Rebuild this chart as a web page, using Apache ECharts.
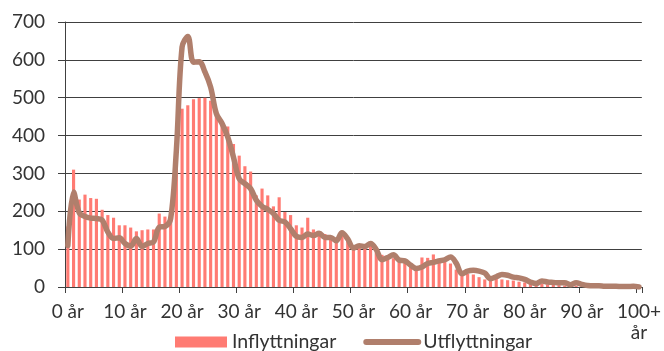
<!DOCTYPE html>
<html>
<head>
<meta charset="utf-8">
<script src="https://cdn.jsdelivr.net/npm/echarts@6/dist/echarts.min.js"></script>
<style>
  html, body { margin: 0; padding: 0; background: #fff; }
  #chart { width: 664px; height: 351px; }
</style>
</head>
<body>
<div id="chart"></div>
<script>
// Age groups, 0 år .. 100+ år
const ages = [
  '0 år','1 år','2 år','3 år','4 år','5 år','6 år','7 år','8 år','9 år',
  '10 år','11 år','12 år','13 år','14 år','15 år','16 år','17 år','18 år','19 år',
  '20 år','21 år','22 år','23 år','24 år','25 år','26 år','27 år','28 år','29 år',
  '30 år','31 år','32 år','33 år','34 år','35 år','36 år','37 år','38 år','39 år',
  '40 år','41 år','42 år','43 år','44 år','45 år','46 år','47 år','48 år','49 år',
  '50 år','51 år','52 år','53 år','54 år','55 år','56 år','57 år','58 år','59 år',
  '60 år','61 år','62 år','63 år','64 år','65 år','66 år','67 år','68 år','69 år',
  '70 år','71 år','72 år','73 år','74 år','75 år','76 år','77 år','78 år','79 år',
  '80 år','81 år','82 år','83 år','84 år','85 år','86 år','87 år','88 år','89 år',
  '90 år','91 år','92 år','93 år','94 år','95 år','96 år','97 år','98 år','99 år',
  '100+ år'
];

// Inflyttningar per age
const inflyttningar = [
  160, 310, 231, 244, 235, 233, 204, 190, 183, 163,
  163, 157, 147, 150, 152, 152, 194, 186, 198, 352,
  471, 480, 496, 499, 500, 492, 465, 430, 424, 378,
  347, 319, 305, 242, 260, 242, 213, 237, 198, 190,
  163, 157, 183, 152, 148, 140, 135, 128, 137, 123,
  110, 108, 108, 115, 100, 85, 80, 76, 68, 66,
  57, 51, 78, 77, 86, 75, 66, 62, 46, 33,
  35, 33, 26, 20, 19, 22, 20, 18, 17, 14,
  12, 10, 9, 8, 7, 6, 5, 4, 4, 3,
  3, 2, 2, 1, 1, 1, 1, 0, 0, 0,
  0
];

// Utflyttningar per age
const utflyttningar = [
  110, 251, 196, 186, 182, 181, 177, 145, 128, 130,
  115, 108, 128, 107, 115, 119, 158, 160, 181, 361,
  634, 662, 594, 595, 568, 528, 458, 432, 396, 343,
  286, 273, 260, 229, 213, 205, 194, 176, 172, 154,
  134, 131, 140, 136, 142, 131, 131, 122, 143, 127,
  103, 109, 107, 115, 99, 72, 78, 85, 71, 69,
  58, 49, 53, 62, 65, 69, 72, 79, 63, 35,
  42, 44, 42, 37, 22, 27, 33, 31, 26, 24,
  20, 13, 9, 16, 13, 12, 11, 11, 6, 11,
  7, 4, 3, 3, 2, 2, 2, 1, 1, 2,
  0
];

const FONT = 'Lato';
const TEXT = '#333333';
const RULE = '#404040';
const BAR = '#FF7B73';
const LINE = '#B07F6C';

const chart = echarts.init(document.getElementById('chart'), null, { renderer: 'canvas' });

chart.setOption({
  animation: false,
  backgroundColor: '#ffffff',
  textStyle: { fontFamily: FONT },
  grid: { left: 65, right: 19, top: 22, bottom: 64, containLabel: false },
  legend: {
    left: 170,
    top: 327,
    itemWidth: 52,
    itemHeight: 11,
    itemGap: 27,
    textStyle: { fontFamily: FONT, fontSize: 19.5, color: TEXT },
    data: [
      { name: 'Inflyttningar', icon: 'rect' },
      {
        name: 'Utflyttningar',
        itemStyle: { opacity: 0 },
        lineStyle: { color: LINE, width: 6, cap: 'round' }
      }
    ]
  },
  xAxis: {
    type: 'category',
    data: ages,
    boundaryGap: true,
    axisLine: { show: true, lineStyle: { color: RULE, width: 1 } },
    axisTick: { show: true, interval: 9, length: 6, lineStyle: { color: RULE } },
    axisLabel: {
      interval: 9,
      margin: 14,
      fontFamily: FONT,
      fontSize: 19,
      color: TEXT,
      lineHeight: 21,
      formatter: v => v.replace('+ ', '+\n')
    },
    splitLine: { show: false }
  },
  yAxis: {
    type: 'value',
    min: 0,
    max: 700,
    interval: 100,
    axisLine: { show: true, lineStyle: { color: RULE, width: 1 } },
    axisTick: { show: true, length: 7, lineStyle: { color: RULE } },
    axisLabel: { margin: 20, fontFamily: FONT, fontSize: 19, color: TEXT },
    splitLine: { show: true, lineStyle: { color: RULE, width: 1 } }
  },
  series: [
    {
      name: 'Inflyttningar',
      type: 'bar',
      data: inflyttningar,
      barCategoryGap: '45%',
      itemStyle: { color: BAR }
    },
    {
      name: 'Utflyttningar',
      type: 'line',
      data: utflyttningar,
      smooth: 0.35,
      symbol: 'none',
      lineStyle: { color: LINE, width: 5.5, cap: 'round', join: 'round' },
      itemStyle: { color: LINE }
    }
  ]
});
</script>
</body>
</html>
